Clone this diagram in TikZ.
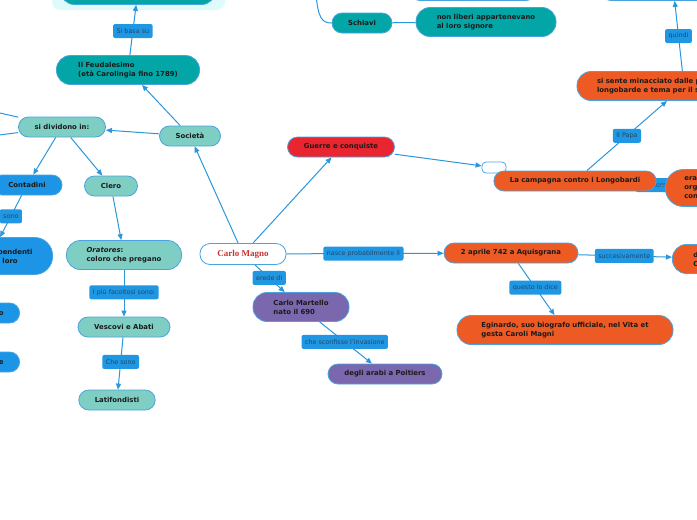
\documentclass[tikz,border=0pt]{standalone}
\usepackage{fontspec}
\setmainfont{DejaVu Sans}
\newfontfamily\cmfont{Liberation Serif}
\usetikzlibrary{arrows.meta}
\definecolor{tealc}{HTML}{03A6A6}
\definecolor{ltealc}{HTML}{7FCEC4}
\definecolor{bluec}{HTML}{1C95E6}
\definecolor{redc}{HTML}{E9262F}
\definecolor{orangec}{HTML}{EE5A23}
\definecolor{purplec}{HTML}{7A67AD}
\definecolor{bordc}{HTML}{4AA3E0}
\definecolor{linec}{HTML}{2A96DC}
\definecolor{lblc}{HTML}{1F97E2}
\definecolor{lbltxt}{HTML}{23476B}
\definecolor{ntxt}{HTML}{1A1A1A}
\definecolor{halofill}{HTML}{DFFAFB}
\definecolor{magnored}{HTML}{C83232}
\pgfdeclarelayer{bg}
\pgfsetlayers{bg,main}
\tikzset{
  nd/.style={draw=bordc, line width=0.8pt, rounded corners=10pt,
    font=\bfseries\fontsize{6.9}{9}\selectfont, text=ntxt,
    inner xsep=16pt, inner ysep=2pt, minimum height=20pt, align=left},
  ndtwo/.style={nd, minimum height=29pt, rounded corners=14pt},
  lbl/.style={fill=lblc, rounded corners=2pt, font=\fontsize{6.4}{8}\selectfont,
    text=lbltxt, inner xsep=3.5pt, inner ysep=0pt, minimum height=14pt},
  conn/.style={draw=linec, line width=1pt},
  arr/.style={conn, -{Triangle[length=6pt,width=5pt]}},
}
\begin{document}
\begin{tikzpicture}[x=1pt,y=-1pt]
\useasboundingbox (0,0) rectangle (697,520);
% clipped nodes at the top
\node[ndtwo, fill=tealc, minimum width=155pt] (topteal) at (138,-10) {};
\node[ndtwo, fill=tealc, minimum width=132pt] (topblue) at (473,-14) {};
\node[ndtwo, fill=orangec, minimum width=150pt] (toporange) at (673,-14) {};
\coordinate (sch0) at (316,-6);
\coordinate (offa) at (-40,104);
\coordinate (offb) at (-40,140);
% main nodes
\node[nd, fill=tealc, minimum width=60pt] (schiavi) at (362,23) {Schiavi};
\node[ndtwo, fill=tealc, minimum width=140pt] (nonliberi) at (486,22) {non liberi appartenevano\\al loro signore};
\node[ndtwo, fill=tealc, minimum width=143pt] (feud) at (128,70) {Il Feudalesimo\\(età Carolingia fino 1789)};
\node[nd, fill=ltealc, minimum width=61pt] (soc) at (190,136) {Società};
\node[nd, fill=ltealc, minimum width=87pt] (sidiv) at (62,127) {si dividono in:};
\node[nd, fill=bluec, minimum width=70pt] (contadini) at (27,185) {Contadini};
\node[nd, fill=ltealc, minimum width=53pt] (clero) at (111,186) {Clero};
\node[nd, fill=bluec, minimum height=37pt, rounded corners=18pt, inner xsep=20pt, anchor=east] (dip) at (53,256) {Lavoratori dipendenti\\sottomessi al loro};
\node[nd, fill=bluec, anchor=east] (colono) at (20,313) {Colono};
\node[nd, fill=bluec, anchor=east] (bracc) at (20,362) {Bracciante};
\node[ndtwo, fill=ltealc, minimum width=115pt] (orat) at (124,255) {\textit{Oratores}:\\coloro che pregano};
\node[nd, fill=ltealc, minimum width=92pt] (vesc) at (124,327) {Vescovi e Abati};
\node[nd, fill=ltealc, minimum width=76pt] (latif) at (117,400) {Latifondisti};
\node[nd, fill=white, minimum width=86pt, minimum height=21pt, font=\cmfont\bfseries\fontsize{9}{10}\selectfont, text=magnored] (carlo) at (243,254) {Carlo Magno};
\node[nd, fill=redc, minimum width=107pt] (guerre) at (341,147) {Guerre e conquiste};
\node[draw=bordc, fill=white, line width=0.8pt, rounded corners=4pt, minimum width=24pt, minimum height=11pt, inner sep=0pt] (empty) at (494,167.5) {};
\node[nd, fill=orangec, minimum width=162pt] (camp) at (575,181) {La campagna contro i Longobardi};
\node[ndtwo, fill=orangec, text width=174pt, inner xsep=20pt] (sisente) at (684,86) {si sente minacciato dalle popolazioni\\longobarde e tema per il suo potere};
\node[nd, fill=orangec, anchor=west, minimum height=37pt, rounded corners=18pt, inner xsep=19pt] (era) at (665,188) {era una\\organizzazione\\con il Papa};
\node[nd, fill=orangec, minimum width=134pt] (aprile) at (511,253) {2 aprile 742 a Aquisgrana};
\node[ndtwo, fill=orangec, anchor=west, inner xsep=21pt] (divenne) at (672,259) {diventa re dei Franchi\\Con il fratello Carlomanno};
\node[ndtwo, fill=orangec, minimum width=216pt] (egin) at (565,330) {Eginardo, suo biografo ufficiale, nel Vita et\\gesta Caroli Magni};
\node[ndtwo, fill=purplec, minimum width=96pt] (martello) at (301,307) {Carlo Martello\\nato il 690};
\node[nd, fill=purplec, minimum width=114pt] (arabi) at (385,374) {degli arabi a Poitiers};
% connectors
\begin{pgfonlayer}{bg}
\fill[halofill, rounded corners=8pt] (52,-30) rectangle (225,10);
\draw[arr] (feud) -- node[lbl, pos=0.48] {Si basa su} (topteal);
\draw[arr] (soc) -- (feud);
\draw[arr] (soc) -- (sidiv);
\draw[arr] (carlo) -- (soc);
\draw[arr] (carlo) -- (guerre);
\draw[arr] (guerre) -- (empty);
\draw[conn] (sidiv) -- (offa);
\draw[conn] (sidiv) -- (offb);
\draw[arr] (sidiv) -- (contadini);
\draw[arr] (sidiv) -- (clero);
\draw[arr] (contadini) -- node[lbl, pos=0.5] {sono} (dip);
\draw[arr] (clero) -- (orat);
\draw[arr] (orat) -- node[lbl, pos=0.48] {I più facoltosi sono:} (vesc);
\draw[arr] (vesc) -- node[lbl, pos=0.47] {Che sono} (latif);
\draw[arr] (carlo) -- node[lbl, pos=0.49] {nasce probabilmente il} (aprile);
\draw[arr] (aprile) -- node[lbl, pos=0.49] {succesivamente} (divenne);
\draw[arr] (aprile) -- node[lbl, pos=0.47] {questo lo dice} (egin);
\draw[arr] (carlo) -- node[lbl, pos=0.48] {erede di} (martello);
\draw[arr] (martello) -- node[lbl, pos=0.48] {che sconfisse l'invasione} (arabi);
\draw[arr] (camp) -- node[lbl, pos=0.5] {Il Papa} (sisente);
\draw[arr] (sisente) -- node[lbl, pos=0.5] {quindi} (toporange);
\node[lbl] (lem) at (658,185) {che sembra};
\draw[conn] (camp) -- (era);
\draw[conn] (sch0) .. controls (318,18) and (322,23) .. (schiavi.west);
\draw[conn] (schiavi) -- (nonliberi);
\end{pgfonlayer}
\end{tikzpicture}
\end{document}
